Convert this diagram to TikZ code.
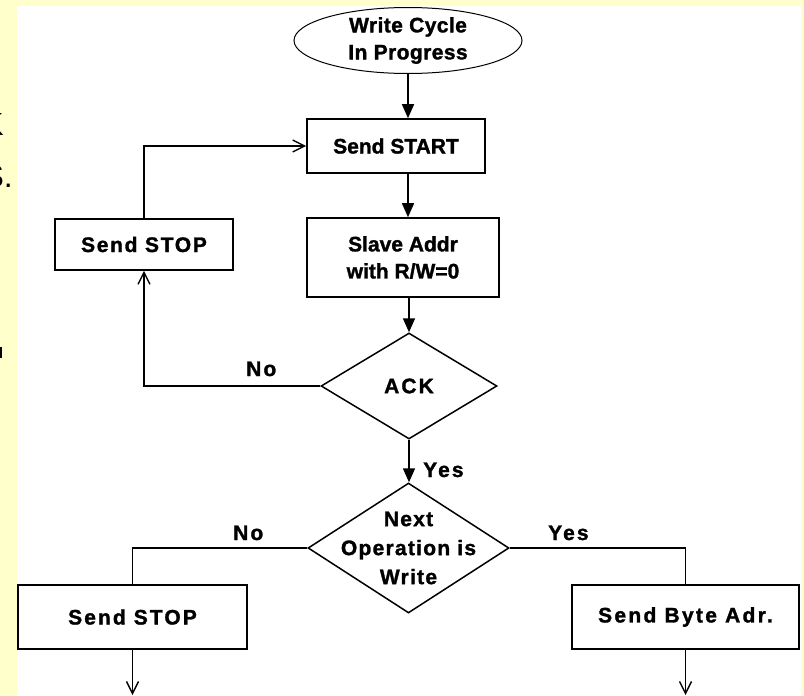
\documentclass[tikz,border=0pt]{standalone}
\usepackage{fontspec}
\setmainfont{Liberation Sans}
\newfontfamily\heavy[FakeBold=1.4]{Liberation Sans Bold}
\usetikzlibrary{shapes.geometric,arrows.meta}
\definecolor{slidebg}{RGB}{255,255,204}
\newcommand{\lsp}[1]{\addfontfeature{LetterSpace=#1}}
\tikzset{
  stepbox/.style={draw, line width=1.6pt, inner sep=0pt, align=center,
    font=\heavy\fontsize{21}{27}\selectfont},
  decision/.style={draw, shape=diamond, line width=1.5pt, inner sep=0pt, align=center,
    font=\heavy\fontsize{21}{27}\selectfont},
  lbl/.style={inner sep=0pt, font=\heavy\fontsize{21}{24}\selectfont\lsp{10}},
  flow/.style={line width=1.6pt, -{Triangle[width=12pt,length=14pt]}},
  back/.style={line width=1.6pt, -{Straight Barb[width=12pt,length=12pt,line width=1.4pt]}},
  plain/.style={line width=1.6pt},
  frag/.style={inner sep=0pt, font=\fontsize{32}{36}\selectfont}
}
\begin{document}
\begin{tikzpicture}[x=1pt,y=-1pt]
\useasboundingbox (0,0) rectangle (804,696);
\fill[slidebg] (0,0) rectangle (804,696);
\fill[white] (17,6) rectangle (801,696);
% cut-off slide text at the left edge
\node[frag, anchor=base east] (fragk) at (4,135) {K};
\node[frag, anchor=base east] (frags) at (13,187) {S.};
\fill (0,347) rectangle (2,358);
% nodes
\node[ellipse, draw, line width=1pt, inner sep=0pt, minimum width=228pt, minimum height=65pt,
  align=center, font=\heavy\fontsize{21}{27}\selectfont\lsp{2}] (ell) at (408,40.5) {Write Cycle\\In Progress};
\node[stepbox, minimum width=178pt, minimum height=54pt] (start) at (396,146) {Send START};
\node[stepbox, minimum width=192pt, minimum height=79pt] (slave) at (403,257.5) {Slave Addr\\with R/W=0};
\node[decision, minimum width=176pt, minimum height=106pt, font=\heavy\fontsize{21}{27}\selectfont\lsp{10}] (ack) at (409,386) {ACK};
\node[stepbox, minimum width=178pt, minimum height=51pt, font=\heavy\fontsize{21}{27}\selectfont\lsp{8}] (stopA) at (144,244.5) {Send STOP};
\node[decision, minimum width=201pt, minimum height=130pt,
  label={[inner sep=0pt, align=center, font=\heavy\fontsize{21}{29}\selectfont\lsp{6}]center:{Next\\Operation is\\Write}}] (next) at (408.5,548) {};
\node[stepbox, minimum width=229pt, minimum height=64pt, font=\heavy\fontsize{21}{27}\selectfont\lsp{10}] (stopB) at (132.5,617) {Send STOP};
\node[stepbox, minimum width=227pt, minimum height=64pt, font=\heavy\fontsize{21}{27}\selectfont\lsp{11}] (byte) at (685.5,617) {Send Byte Adr.};
% labels
\node[lbl, anchor=base west] (noA) at (246,376) {No};
\node[lbl, anchor=base west] (yesA) at (423,477) {Yes};
\node[lbl, anchor=base west] (noB) at (233,540) {No};
\node[lbl, anchor=base west] (yesB) at (548,540) {Yes};
% connectors
\draw[flow] (ell.south) -- (ell.south |- start.north);
\draw[flow] (start.south -| ell.south) -- (slave.north -| ell.south);
\draw[flow] (slave.south -| ack.north) -- (ack.north);
\draw[back] (ack.west) -| (stopA.south);
\draw[back] (stopA.north) |- (start.west);
\draw[flow] (ack.south) -- (ack.south |- next.north);
\draw[plain] (next.west) -| (stopB.north);
\draw[plain] (next.east) -| (byte.north);
\coordinate (endA) at (132.5,695);
\coordinate (endB) at (685.5,695);
\draw[back] (stopB.south) -- (endA);
\draw[back] (byte.south) -- (endB);
\end{tikzpicture}
\end{document}
